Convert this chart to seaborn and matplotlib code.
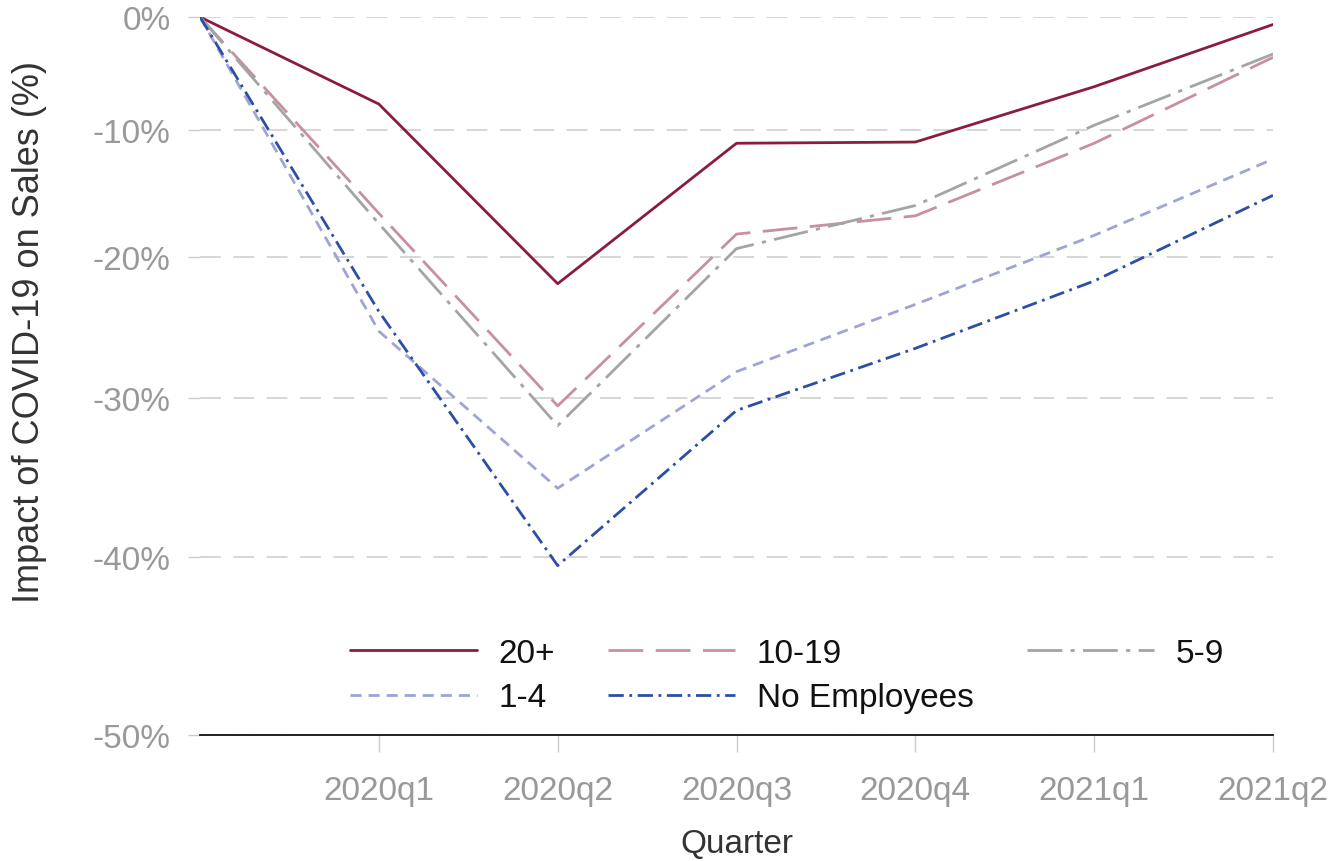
import numpy as np
import pandas as pd
import matplotlib
matplotlib.use("Agg")
import matplotlib.pyplot as plt
import seaborn as sns
from matplotlib.ticker import FixedLocator, FuncFormatter

# ---- data ----
quarters = ["2019q4", "2020q1", "2020q2", "2020q3", "2020q4", "2021q1", "2021q2"]
tick_labels = ["2020q1", "2020q2", "2020q3", "2020q4", "2021q1", "2021q2"]
groups = ["20+", "10-19", "5-9", "1-4", "No Employees"]
emp_20plus = [0, -7.8, -22.0, -11.1, -11.0, -6.3, -0.7]
emp_10_19 = [0, -16.7, -30.5, -18.3, -16.9, -11.1, -3.7]
emp_5_9 = [0, -17.5, -31.8, -19.4, -16.1, -9.6, -3.4]
emp_1_4 = [0, -25.4, -35.8, -28.2, -23.5, -18.4, -12.4]
emp_none = [0, -24.0, -40.5, -30.8, -26.6, -21.8, -15.3]
y_ticks = [0, -10, -20, -30, -40, -50]

series = [emp_20plus, emp_10_19, emp_5_9, emp_1_4, emp_none]
rows = []
for g, vals in zip(groups, series):
    for i, (q, v) in enumerate(zip(quarters, vals)):
        rows.append({"t": i, "quarter": q, "impact": v, "group": g})
df = pd.DataFrame(rows)

palette = {"20+": "#8a1c3c", "10-19": "#c8909d", "5-9": "#a4a4a4",
           "1-4": "#9ea4d4", "No Employees": "#2b4fa6"}
dashes = {"20+": "", "10-19": (25, 9), "5-9": (25, 6, 3, 6),
          "1-4": (8, 5), "No Employees": (11, 4, 2, 4)}

sns.set_theme(style="white")
plt.rcParams["font.family"] = ["Liberation Sans", "DejaVu Sans"]
plt.rcParams["lines.scale_dashes"] = False

fig = plt.figure(figsize=(13.34, 8.62), dpi=100)
ax = fig.add_axes([200 / 1334, 1 - 736 / 862, 1073 / 1334, 718 / 862])

K = 1.133

def fwd(v):
    v = np.asarray(v, dtype=float)
    return 1.0 - np.exp(-K * v / 100.0)

def inv(t):
    t = np.asarray(t, dtype=float)
    with np.errstate(divide="ignore", invalid="ignore"):
        return -100.0 / K * np.log(np.clip(1.0 - t, 1e-9, None))

ax.set_yscale("function", functions=(fwd, inv))

sns.lineplot(data=df, x="t", y="impact", hue="group", style="group",
             hue_order=groups, style_order=groups, palette=palette,
             dashes=dashes, linewidth=2.0, ax=ax, legend=True)

ax.set_xlim(0, 6)
ax.set_ylim(-50, 0)

ax.yaxis.set_major_locator(FixedLocator(y_ticks))
ax.yaxis.set_minor_locator(FixedLocator([]))
ax.yaxis.set_major_formatter(FuncFormatter(lambda v, p: f"{int(round(v))}%"))
ax.set_xticks(range(1, 7))
ax.set_xticklabels(tick_labels)

ax.grid(axis="y", color="#d0d0d0", linestyle=(0, (15, 9)), linewidth=1.2)
ax.grid(axis="x", visible=False)
for s in ["left", "right", "top"]:
    ax.spines[s].set_visible(False)
ax.spines["bottom"].set_color("#111111")
ax.spines["bottom"].set_linewidth(1.3)

ax.tick_params(axis="y", which="major", left=True, length=9, width=1.0,
               color="#cccccc", labelcolor="#999999", labelsize=24, pad=12)
ax.tick_params(axis="x", which="major", bottom=True, length=12, width=1.0,
               color="#cccccc", labelcolor="#999999", labelsize=24, pad=17)

ax.set_ylabel("Impact of COVID-19 on Sales (%)", fontsize=26, color="#333333")
ax.yaxis.set_label_coords(-0.143, 0.562)
ax.set_xlabel("Quarter", fontsize=24, color="#333333", labelpad=16)

handles, labels = ax.get_legend_handles_labels()
hmap = dict(zip(labels, handles))
order = ["20+", "1-4", "10-19", "No Employees", "5-9"]
ax.legend([hmap[l] for l in order], order, ncol=3, loc="lower left",
          bbox_to_anchor=(0.14, 0.03), frameon=False, fontsize=24,
          handlelength=3.8, handletextpad=0.65, columnspacing=1.6,
          labelspacing=0.4, borderpad=0, borderaxespad=0)
for t in ax.get_legend().get_texts():
    t.set_color("#111111")

fig.savefig("out.png", dpi=100)
